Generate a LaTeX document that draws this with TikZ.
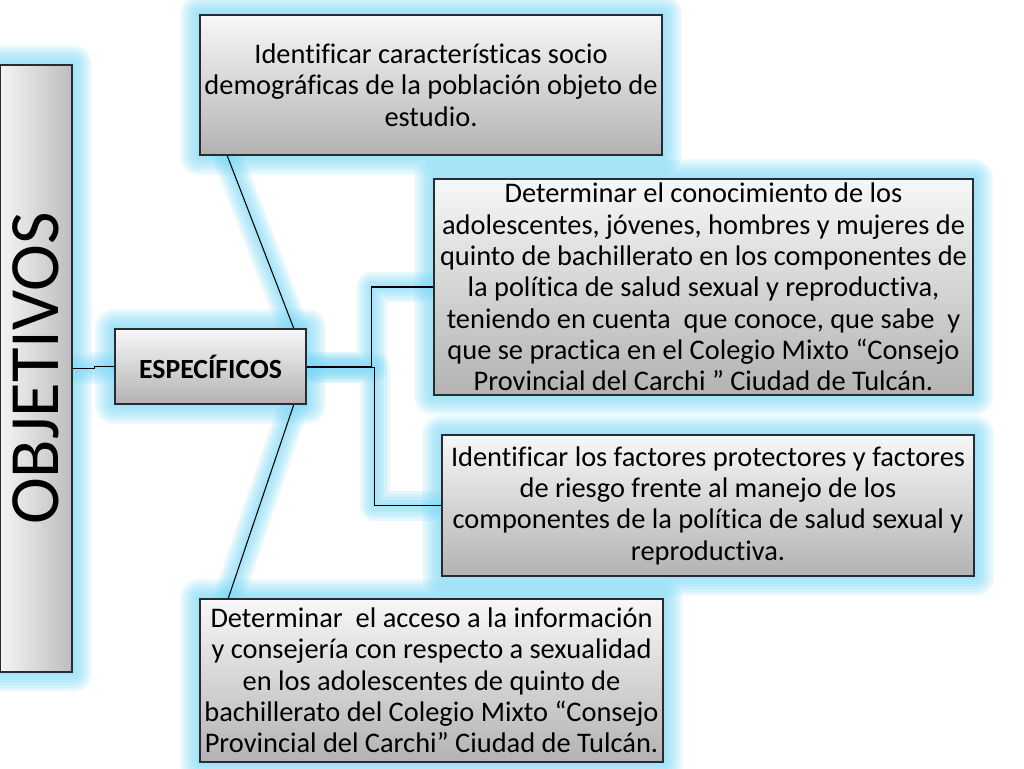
\documentclass[tikz,border=0pt]{standalone}
\usepackage{fontspec}
\usepackage{graphicx}
\setmainfont[Ligatures=NoCommon]{Carlito}
\usetikzlibrary{calc,backgrounds}
\definecolor{glowc}{RGB}{120,214,244}
\definecolor{boxline}{RGB}{40,44,48}
\tikzset{
  box/.style={draw=boxline, line width=1.1pt, top color=black!3, bottom color=black!30,
    inner sep=0pt, align=center, font=\fontsize{21.3}{23.5}\selectfont},
  conn/.style={draw=black, line width=0.8pt},
  glowfill/.style={fill=glowc, opacity=0.16},
  glowline/.style={draw=glowc, opacity=0.18, line cap=round, line join=round},
}
\newcommand\glowaround[1]{%
  \foreach \k in {19,16,13,10,7,4,1}{%
    \fill[glowfill, rounded corners=\k*0.75pt] ($(#1.south west)+(-\k,\k)$) rectangle ($(#1.north east)+(\k,-\k)$);
  }%
}
\begin{document}
\begin{tikzpicture}[x=0.75pt,y=-0.75pt]
\useasboundingbox (0,0) rectangle (1024,768);

% nodes
\node[box, left color=black!4, right color=black!26, minimum width=54pt, minimum height=455.25pt] (obj) at (36,368.5)
  {\rotatebox{90}{\fontsize{53}{53}\selectfont OBJETIVOS}};
\node[box, minimum width=143.25pt, minimum height=56.25pt, font=\fontsize{20.8}{24}\selectfont\bfseries] (esp) at (210.5,366.5) {ESPECÍFICOS};
\node[box, minimum width=346.5pt, minimum height=105pt] (top) at (431,85)
  {Identificar características socio\\demográficas de la población objeto de\\estudio.};
\node[box, minimum width=404.25pt, minimum height=162pt] (b2) at (703.5,287)
  {Determinar el conocimiento de los\\adolescentes, jóvenes, hombres y mujeres de\\quinto de bachillerato en los componentes de\\la política de salud sexual y reproductiva,\\teniendo en cuenta\ \ que conoce, que sabe\ \ y\\que se practica en el Colegio Mixto “Consejo\\Provincial del Carchi ” Ciudad de Tulcán.};
\node[box, minimum width=399pt, minimum height=105.75pt] (b3) at (708,505.5)
  {Identificar los factores protectores y factores\\de riesgo frente al manejo de los\\componentes de la política de salud sexual y\\reproductiva.};
\node[box, minimum width=347.25pt, minimum height=122.25pt] (bot) at (431.5,680.5)
  {Determinar\ \ el acceso a la información\\y consejería con respecto a sexualidad\\en los adolescentes de quinto de\\bachillerato del Colegio Mixto “Consejo\\Provincial del Carchi” Ciudad de Tulcán.};

\begin{scope}[on background layer]
  \glowaround{obj}
  \glowaround{esp}
  \glowaround{top}
  \glowaround{b2}
  \glowaround{b3}
  \glowaround{bot}
  % connectors with glow
  \foreach \w in {30,24,18,12,6}{%
    \draw[glowline, line width=\w*0.75pt] (obj.east) -- ++(22,0) |- (esp.west);
    \draw[glowline, line width=\w*0.75pt] ($(top.south west)+(28,0)$) -- ($(esp.north east)+(-13,0)$);
    \draw[glowline, line width=\w*0.75pt] ($(esp.south east)+(-13,0)$) -- ($(bot.north west)+(29,0)$);
    \draw[glowline, line width=\w*0.75pt] (esp.east) -- ++(65,0) |- (b2.west);
    \draw[glowline, line width=\w*0.75pt] ($(esp.east)+(0,1)$) -- ++(68,0) |- (b3.west);
  }
  \draw[conn] (obj.east) -- ++(22,0) |- (esp.west);
  \draw[conn] ($(top.south west)+(28,0)$) -- ($(esp.north east)+(-13,0)$);
  \draw[conn] ($(esp.south east)+(-13,0)$) -- ($(bot.north west)+(29,0)$);
  \draw[conn] (esp.east) -- ++(65,0) |- (b2.west);
  \draw[conn] ($(esp.east)+(0,1)$) -- ++(68,0) |- (b3.west);
\end{scope}
\end{tikzpicture}
\end{document}
